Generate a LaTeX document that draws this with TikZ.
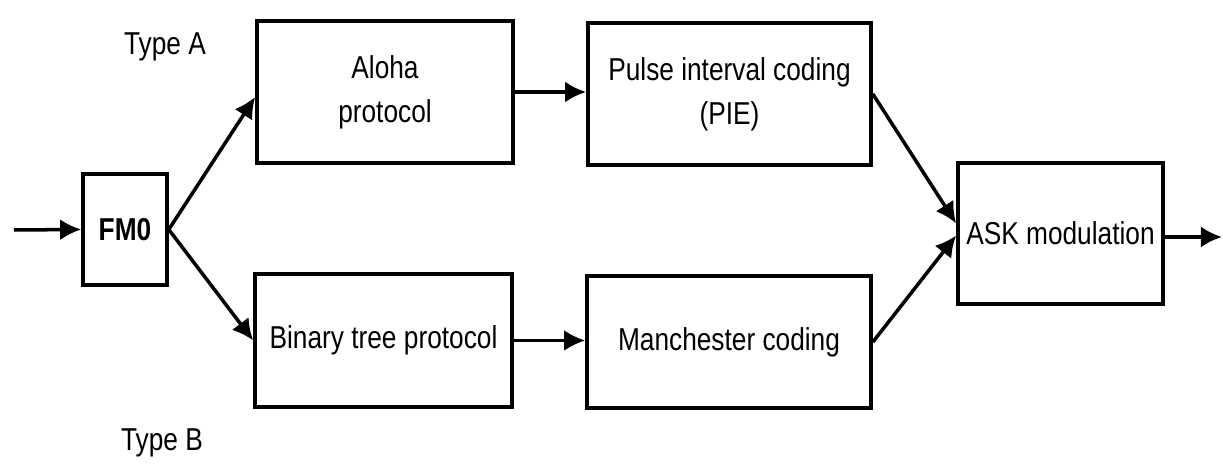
\documentclass[tikz,border=0pt]{standalone}
\usepackage{fontspec}
\setmainfont{Liberation Sans}[FakeStretch=0.83]
\usetikzlibrary{arrows.meta}

\begin{document}
\begin{tikzpicture}[x=0.01cm, y=0.01cm,
    blk/.style={draw, line width=1pt, inner sep=0pt, align=center,
        font=\fontsize{9}{12.5}\selectfont},
    lbl/.style={anchor=base, font=\fontsize{9}{12.5}\selectfont},
    >={Latex[length=6pt, width=6pt]}]
    \useasboundingbox (0,0) rectangle (1223,464);

    % input and line coder
    \coordinate (in) at (14,234);
    \node[blk, minimum width=0.84cm, minimum height=1.11cm,
        font=\fontsize{9}{12.5}\selectfont\bfseries] (fm0) at (125,234.5) {FM0};
    \draw[->, line width=1pt] (in) -- (fm0.west);

    % Type A track
    \node[lbl] (typea) at (165,409) {Type A};
    \node[blk, minimum width=2.56cm, minimum height=1.42cm] (aloha) at (385,372) {Aloha\\protocol};
    \node[blk, minimum width=2.83cm, minimum height=1.42cm] (pie) at (729.5,370) {Pulse interval coding\\(PIE)};

    \draw[->, line width=1pt] (fm0.east) -- ([yshift=-0.05cm]aloha.west);
    \draw[->, line width=1pt] (aloha.east) -- (aloha.east -| pie.west);

    % Type B track
    \node[lbl] (typeb) at (162,13) {Type B};
    \node[blk, minimum width=2.57cm, minimum height=1.33cm] (binary) at (383.5,123.5) {Binary tree protocol};
    \node[blk, minimum width=2.84cm, minimum height=1.32cm] (manch) at (729,122) {Manchester coding};

    \draw[->, line width=1pt] (fm0.east) -- (binary.west);
    \draw[->, line width=1pt] (binary.east) -- (binary.east -| manch.west);

    % modulation
    \node[blk, minimum width=2.05cm, minimum height=1.41cm] (ask) at (1060.5,230.5) {ASK modulation};
    \coordinate (out) at (1222,227);

    \draw[->, line width=1pt] (pie.east) -- ([yshift=0.1cm]ask.west);
    \draw[->, line width=1pt] (manch.east) -- ([yshift=-0.02cm]ask.west);
    \draw[->, line width=1pt] (ask.east |- out) -- (out);
\end{tikzpicture}
\end{document}
